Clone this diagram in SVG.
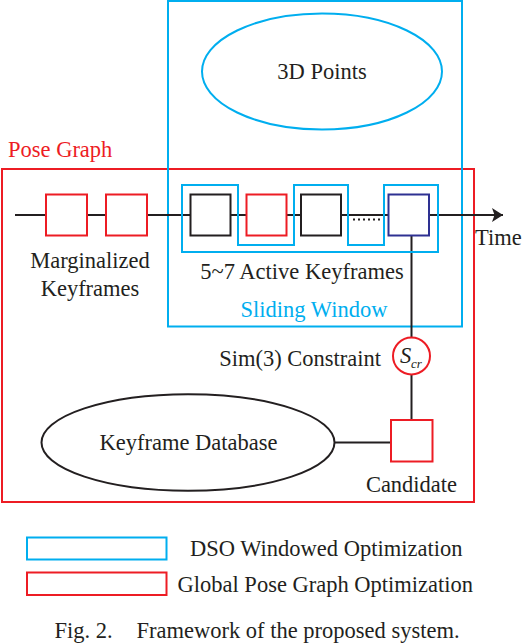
<svg xmlns="http://www.w3.org/2000/svg" width="524" height="644" viewBox="0 0 524 644">
<style>
text{font-family:"Liberation Serif","Times New Roman",serif;font-size:22.5px;fill:#231F20}
.blue{fill:none;stroke:#00AEEF;stroke-width:2}
.red{fill:#fff;stroke:#ED1C24;stroke-width:2}
.redn{fill:none;stroke:#ED1C24;stroke-width:2}
.blk{fill:#fff;stroke:#231F20;stroke-width:2}
.ln{fill:none;stroke:#231F20;stroke-width:2}
</style>
<defs>
<marker id="arr" markerUnits="userSpaceOnUse" markerWidth="14" markerHeight="16" refX="11" refY="7" orient="auto">
<path d="M0,0 L11,7 L0,14 L2.5,7 Z" fill="#231F20"/>
</marker>
</defs>
<rect width="524" height="644" fill="#fff"/>

<g id="pose-graph">
<rect class="redn" x="2" y="169" width="472" height="333"/>
<text x="8" y="157" style="fill:#ED1C24">Pose Graph</text>
</g>

<g id="sliding-window">
<rect class="blue" x="168" y="1" width="294" height="325.5"/>
<text x="314" y="317" text-anchor="middle" style="fill:#00AEEF">Sliding Window</text>
</g>

<g id="points-3d">
<ellipse cx="322" cy="71.5" rx="120" ry="58" fill="none" stroke="#00AEEF" stroke-width="2"/>
<text x="322" y="79" text-anchor="middle">3D Points</text>
</g>

<g id="connectors">
<line class="ln" x1="15" y1="215" x2="503" y2="215" marker-end="url(#arr)"/>
<line x1="353" y1="219.5" x2="382" y2="219.5" stroke="#231F20" stroke-width="2" stroke-dasharray="2 3"/>
<line class="ln" x1="411.5" y1="235" x2="411.5" y2="337"/>
<line class="ln" x1="411.5" y1="374.5" x2="411.5" y2="420"/>
<line class="ln" x1="334" y1="442.5" x2="391" y2="442.5"/>
</g>

<g id="active-keyframes">
<path class="blue" d="M182,185 H238 V245 H294 V185 H348 V245 H384 V185 H438 V252 H182 Z"/>
<text x="302" y="279" text-anchor="middle">5~7 Active Keyframes</text>
</g>

<g id="marginalized-keyframes">
<rect class="red" x="46" y="194.5" width="41" height="41"/>
<rect class="red" x="106" y="194.5" width="41" height="41"/>
<text x="90" y="268" text-anchor="middle">Marginalized</text>
<text x="90" y="296" text-anchor="middle">Keyframes</text>
</g>

<g id="kf-1"><rect class="blk" x="190.5" y="194.5" width="40" height="41"/></g>
<g id="kf-2"><rect class="red" x="246.5" y="194.5" width="40" height="41"/></g>
<g id="kf-3"><rect class="blk" x="301" y="194.5" width="40" height="41"/></g>
<g id="kf-current"><rect x="388.5" y="194.5" width="40.5" height="41" fill="#fff" stroke="#2E3192" stroke-width="2"/></g>

<g id="time-label"><text x="475" y="245">Time</text></g>

<g id="sim3-constraint">
<circle cx="411.5" cy="356" r="18.5" fill="#fff" stroke="#ED1C24" stroke-width="2"/>
<text x="400" y="363" style="font-style:italic">S</text>
<text x="411" y="368" style="font-style:italic;font-size:13px">cr</text>
<text x="381" y="366" text-anchor="end">Sim(3) Constraint</text>
</g>

<g id="keyframe-database">
<ellipse class="ln" cx="188" cy="442.5" rx="146.5" ry="48.3"/>
<text x="188.5" y="450" text-anchor="middle">Keyframe Database</text>
</g>

<g id="candidate">
<rect class="red" x="391" y="420" width="41.5" height="41.5"/>
<text x="411.5" y="492" text-anchor="middle">Candidate</text>
</g>

<g id="legend">
<rect class="blue" x="27" y="537.5" width="139.5" height="22"/>
<text x="190" y="556">DSO Windowed Optimization</text>
<rect class="redn" x="27" y="572.5" width="139.5" height="22.5"/>
<text x="177.5" y="592">Global Pose Graph Optimization</text>
</g>

<g id="caption">
<text x="54.5" y="637.5">Fig. 2.</text>
<text x="136.5" y="637.5">Framework of the proposed system.</text>
</g>
</svg>
